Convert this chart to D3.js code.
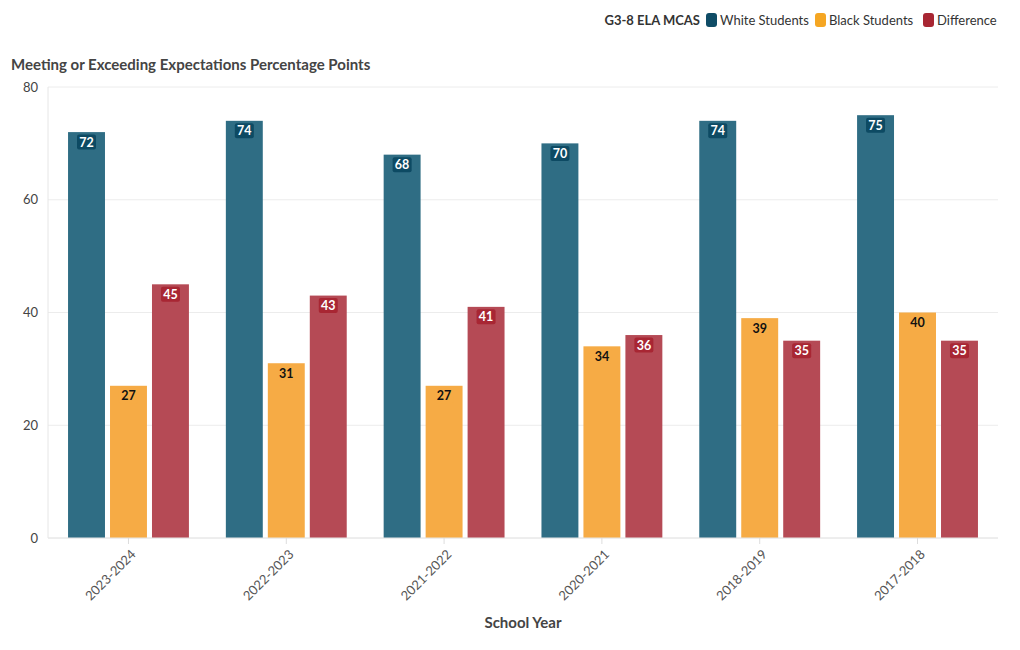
<!DOCTYPE html>
<html><head><meta charset="utf-8">
<script src="https://cdn.jsdelivr.net/npm/d3@7"></script>
<style>
body{margin:0;background:#fff;font-family:"Source Sans Pro",Lato,"Open Sans",sans-serif;}
</style></head>
<body><svg id="c" width="1020" height="650"></svg>
<script>
const years = ["2023-2024","2022-2023","2021-2022","2020-2021","2018-2019","2017-2018"];
const seriesNames = ["White Students","Black Students","Difference"];
const white = [72,74,68,70,74,75];
const black = [27,31,27,34,39,40];
const diff = [45,43,41,36,35,35];
const yTicks = [0,20,40,60,80];
const barColors = ["#2f6d84","#f6ab45","#b54a55"];
const legendColors = ["#0f4c66","#f5a623","#a82633"];
const labelBg = ["#0d4a63","#f6ab45","#a82633"];
const labelFg = ["#fff","#111","#fff"];

const svg = d3.select("#c");
const m = {l:48, r:22, t:87, b:112};
const W = 1020, H = 650;
const x0 = d3.scaleBand().domain(years).range([m.l, W-m.r]).paddingInner(0.234).paddingOuter(0.127);
const x1 = d3.scaleBand().domain(seriesNames).range([0, x0.bandwidth()]).paddingInner(0.12);
const y = d3.scaleLinear().domain([0,80]).range([H-m.b, m.t]);

svg.append("g").selectAll("line").data(yTicks).join("line")
  .attr("x1", m.l).attr("x2", W-m.r).attr("y1", d=>y(d)).attr("y2", d=>y(d))
  .attr("stroke","#ececec");
svg.append("line").attr("x1",m.l).attr("x2",m.l).attr("y1",m.t).attr("y2",y(0)).attr("stroke","#e6e6e6");
svg.append("g").selectAll("text").data(yTicks).join("text")
  .attr("x", m.l-10).attr("y", d=>y(d)).attr("dy","0.35em").attr("text-anchor","end")
  .attr("font-size",13).attr("fill","#444").text(d=>d);

const rows = years.map((yr,i)=>({yr, vals:[white[i],black[i],diff[i]]}));
const g = svg.append("g").selectAll("g").data(rows).join("g")
  .attr("transform", d=>`translate(${x0(d.yr)},0)`);
g.selectAll("rect").data(d=>d.vals.map((v,k)=>({v,k}))).join("rect")
  .attr("x", d=>x1(seriesNames[d.k])).attr("width", x1.bandwidth())
  .attr("y", d=>y(d.v)).attr("height", d=>y(0)-y(d.v))
  .attr("fill", d=>barColors[d.k]);
const lab = g.selectAll("g.lab").data(d=>d.vals.map((v,k)=>({v,k}))).join("g").attr("class","lab")
  .attr("transform", d=>`translate(${x1(seriesNames[d.k])+x1.bandwidth()/2},${y(d.v)+10})`);
lab.append("rect").attr("x",-9.5).attr("y",-7.5).attr("width",19).attr("height",15).attr("rx",2)
  .attr("fill", d=>labelBg[d.k]);
lab.append("text").attr("text-anchor","middle").attr("dy","0.36em")
  .attr("font-size",12.5).attr("font-weight","bold").attr("fill", d=>labelFg[d.k]).text(d=>d.v);

svg.append("line").attr("x1",m.l).attr("x2",W-m.r).attr("y1",y(0)).attr("y2",y(0)).attr("stroke","#e6e6e6");
const xa = svg.append("g").selectAll("g").data(years).join("g")
  .attr("transform", d=>`translate(${x0(d)+x0.bandwidth()/2},${y(0)})`);
xa.append("line").attr("y2",6).attr("stroke","#ddd");
xa.append("text").attr("transform","translate(5,14) rotate(-45)").attr("text-anchor","end")
  .attr("dy","0.35em").attr("font-size",13).attr("fill","#555").text(d=>d);

svg.append("text").attr("x",11).attr("y",70).attr("font-size",15).attr("font-weight","bold").attr("fill","#444")
  .text("Meeting or Exceeding Expectations Percentage Points");
svg.append("text").attr("x",(m.l+W-m.r)/2).attr("y",628).attr("text-anchor","middle").attr("font-size",15)
  .attr("font-weight","bold").attr("fill","#444").text("School Year");

const lg = svg.append("g");
lg.append("text").attr("x",700).attr("y",25).attr("text-anchor","end").attr("font-size",13).attr("font-weight","bold")
  .attr("fill","#333").text("G3-8 ELA MCAS");
const lx = [706, 815, 923];
seriesNames.forEach((s,k)=>{
  lg.append("rect").attr("x",lx[k]).attr("y",13).attr("width",11).attr("height",14).attr("rx",3).attr("fill",legendColors[k]);
  lg.append("text").attr("x",lx[k]+14).attr("y",25).attr("font-size",13).attr("fill","#333").text(s);
});
</script></body></html>
